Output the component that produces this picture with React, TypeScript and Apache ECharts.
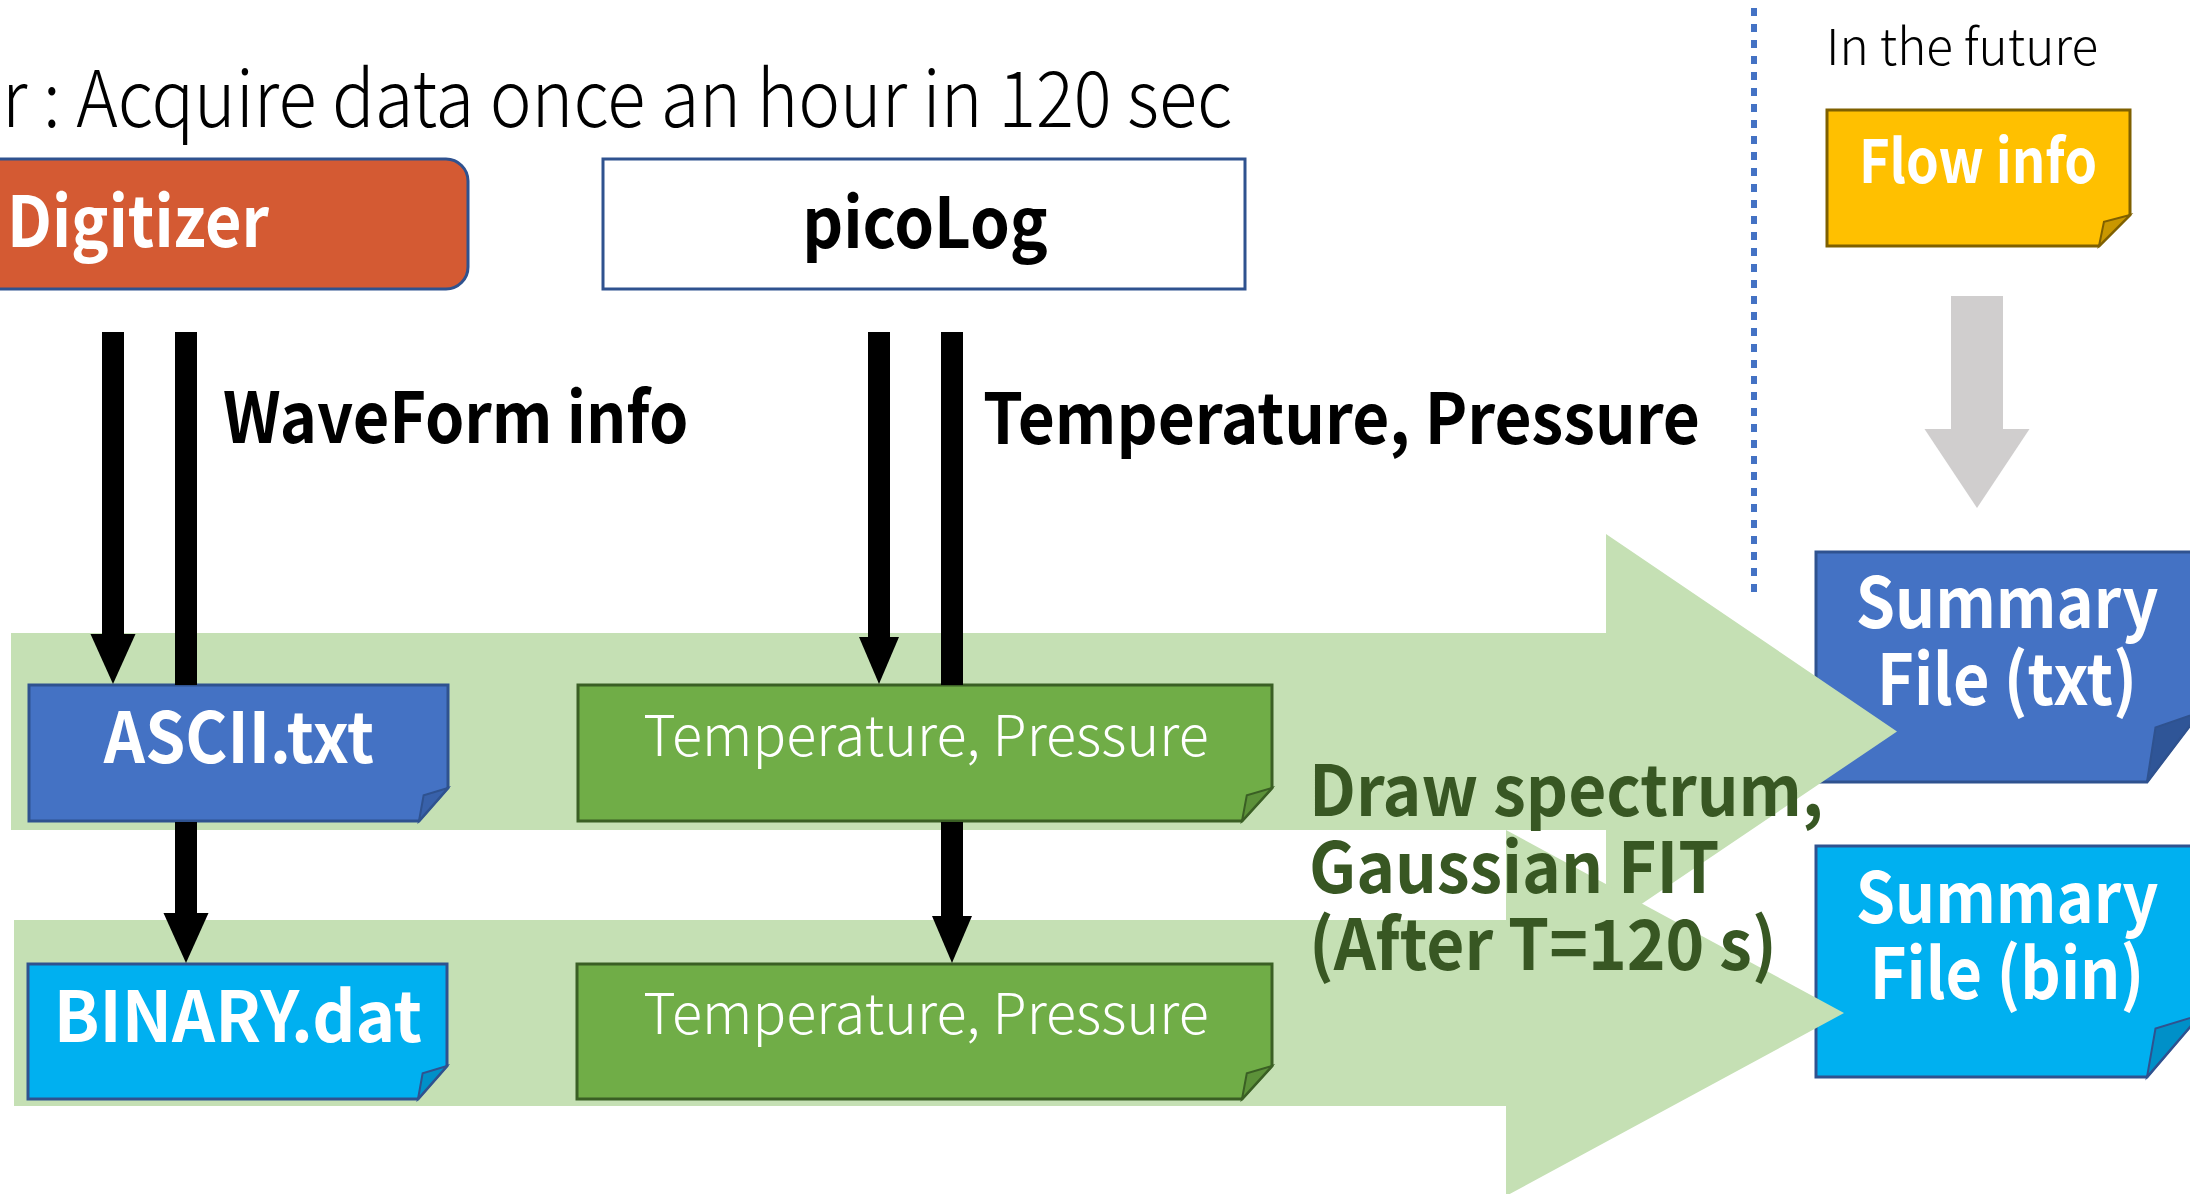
import React, { useEffect, useRef } from "react";
import * as echarts from "echarts";

// ---- Text content ----
const headerText = "r : Acquire data once an hour in 120 sec";
const futureText = "In the future";
const sourceLabels = ["Digitizer", "picoLog"];
const flowLabels = ["WaveForm info", "Temperature, Pressure"];
const fileLabels = ["ASCII.txt", "Temperature, Pressure", "BINARY.dat", "Temperature, Pressure"];
const summaryLabels = [["Summary", "File (txt)"], ["Summary", "File (bin)"]];
const futureBoxLabel = "Flow info";
const processLines = ["Draw spectrum,", "Gaussian FIT", "(After T=120 s)"];

// ---- Layout / style ----
const W = 2190;
const H = 1194;
const FONT = "'Noto Sans CJK JP', 'Noto Sans', sans-serif";
const C = {
  orange: "#D45A33",
  blue: "#4472C4",
  blueBorder: "#2F528F",
  blueFlap: "#3861AA",
  cyan: "#00B0F0",
  cyanFlap: "#0090C8",
  green: "#70AD47",
  greenBorder: "#3A5F24",
  greenFlap: "#5C9139",
  yellow: "#FFC000",
  yellowBorder: "#7F6000",
  yellowFlap: "#C99700",
  lightGreen: "#C5E0B4",
  gray: "#D0CECE",
  darkGreenText: "#385723",
};
const DY = -5; // global vertical text offset

function foldBox(x: number, y: number, w: number, h: number, fx: number, fy: number, fill: string, stroke: string, flap: string, lw = 3) {
  const R: [number, number] = [x + w, y + h - fy];
  const B: [number, number] = [x + w - fx, y + h];
  const inner: [number, number] = [B[0] + fx * 0.16, R[1] + fy * 0.22];
  return [
    {
      type: "polygon",
      shape: { points: [[x, y], [x + w, y], R, B, [x, y + h]] },
      style: { fill, stroke, lineWidth: lw },
    },
    {
      type: "polygon",
      shape: { points: [R, inner, B] },
      style: { fill: flap, stroke, lineWidth: lw - 1 },
    },
  ];
}

function downArrow(cx: number, y0: number, y1: number, shaftW: number, headLen: number, headW: number, color = "#000") {
  const els: any[] = [
    { type: "rect", shape: { x: cx - shaftW / 2, y: y0, width: shaftW, height: y1 - headLen - y0 + 1 }, style: { fill: color } },
  ];
  if (headLen > 0) {
    els.push({
      type: "polygon",
      shape: { points: [[cx - headW / 2, y1 - headLen], [cx + headW / 2, y1 - headLen], [cx, y1]] },
      style: { fill: color },
    });
  }
  return els;
}

function bigArrow(x0: number, bt: number, bb: number, hx: number, ht: number, hb: number, tip: number) {
  const cy = (bt + bb) / 2;
  return {
    type: "polygon",
    shape: { points: [[x0, bt], [hx, bt], [hx, ht], [tip, cy], [hx, hb], [hx, bb], [x0, bb]] },
    style: { fill: C.lightGreen },
  };
}

function txt(text: string, x: number, y: number, size: number, weight: string | number, fill: string, align = "center", scaleX = 1, lineHeight?: number) {
  const style: any = {
    text,
    fill,
    font: `${weight} ${size}px ${FONT}`,
    textAlign: align,
    textVerticalAlign: "middle",
  };
  if (lineHeight) style.lineHeight = lineHeight;
  return { type: "text", x, y: y + DY, scaleX, style };
}

function buildOption() {
  const els: any[] = [];

  // Summary boxes (under the big arrows)
  els.push(...foldBox(1816, 552, 384, 230, 53, 70, C.blue, C.blueBorder, "#2F5597", 3));
  els.push(...foldBox(1816, 846, 384, 231, 53, 62, C.cyan, C.blueBorder, C.cyanFlap, 3));

  // Big light-green arrows
  els.push(bigArrow(11, 633, 830, 1606, 534, 928, 1897));
  els.push(bigArrow(14, 920, 1106, 1506, 830, 1196, 1844));

  // Dotted separator
  els.push({
    type: "line",
    shape: { x1: 1754, y1: 8, x2: 1754, y2: 594 },
    style: { stroke: C.blue, lineWidth: 6, lineDash: [8, 8] },
  });

  // Source boxes
  els.push({
    type: "rect",
    shape: { x: -40, y: 159, width: 508, height: 130, r: 22 },
    style: { fill: C.orange, stroke: C.blueBorder, lineWidth: 3 },
  });
  els.push({
    type: "rect",
    shape: { x: 603, y: 159, width: 642, height: 130 },
    style: { fill: "#FFFFFF", stroke: C.blueBorder, lineWidth: 3 },
  });

  // Future box + gray arrow
  els.push(...foldBox(1827, 110, 303, 136, 31, 31, C.yellow, C.yellowBorder, C.yellowFlap, 3));
  els.push(...downArrow(1977, 296, 508, 52, 79, 105, C.gray));

  // File boxes
  els.push(...foldBox(29, 685, 419, 136, 29, 33, C.blue, C.blueBorder, C.blueFlap, 3));
  els.push(...foldBox(578, 685, 694, 136, 30, 33, C.green, C.greenBorder, C.greenFlap, 3));
  els.push(...foldBox(28, 964, 419, 135, 29, 33, C.cyan, C.blueBorder, C.cyanFlap, 3));
  els.push(...foldBox(577, 964, 695, 135, 30, 33, C.green, C.greenBorder, C.greenFlap, 3));

  // Black arrows
  els.push(...downArrow(113, 332, 684, 22, 50, 45));
  els.push(...downArrow(186, 332, 684, 22, 0, 0));
  els.push(...downArrow(186, 822, 963, 22, 50, 45));
  els.push(...downArrow(879, 332, 684, 22, 47, 40));
  els.push(...downArrow(952, 332, 684, 22, 0, 0));
  els.push(...downArrow(952, 822, 963, 22, 47, 40));

  // Texts
  els.push(txt(headerText, 2, 98, 78, 300, "#000", "left", 0.905));
  els.push(txt(futureText, 1826, 48, 50, 300, "#000", "left", 0.99));
  els.push(txt(sourceLabels[0], 7, 222, 70, "bold", "#FFFFFF", "left", 0.9));
  els.push(txt(sourceLabels[1], 925, 222, 70, "bold", "#000", "center", 0.91));
  els.push(txt(futureBoxLabel, 1978, 162, 60, "bold", "#FFFFFF", "center", 0.875));
  els.push(txt(flowLabels[0], 223, 418, 70, "bold", "#000", "left", 0.9));
  els.push(txt(flowLabels[1], 983, 418, 70, "bold", "#000", "left", 0.914));
  els.push(txt(fileLabels[0], 239, 737, 70, "bold", "#FFFFFF", "center", 0.92));
  els.push(txt(fileLabels[1], 926, 736, 56, 300, "#FFFFFF", "center", 0.995));
  els.push(txt(fileLabels[2], 238, 1016, 70, "bold", "#FFFFFF", "center", 0.96));
  els.push(txt(fileLabels[3], 926, 1014, 56, 300, "#FFFFFF", "center", 0.995));
  els.push(txt(summaryLabels[0].join("\n"), 2007, 641.5, 70, "bold", "#FFFFFF", "center", 0.9, 77));
  els.push(txt(summaryLabels[1].join("\n"), 2007, 936, 70, "bold", "#FFFFFF", "center", 0.9, 76));
  els.push(txt(processLines.join("\n"), 1309, 868, 70, "bold", C.darkGreenText, "left", 0.94, 77));

  return {
    animation: false,
    backgroundColor: "#FFFFFF",
    graphic: { elements: els },
  };
}

export default function App() {
  const ref = useRef<HTMLDivElement>(null);
  useEffect(() => {
    document.body.style.margin = "0";
    if (!ref.current) return;
    const chart = echarts.init(ref.current, undefined, { renderer: "svg" });
    chart.setOption(buildOption());
    return () => chart.dispose();
  }, []);
  return (
    <div
      ref={ref}
      style={{ position: "fixed", left: 0, top: 0, width: W, height: H, background: "#fff" }}
    />
  );
}
